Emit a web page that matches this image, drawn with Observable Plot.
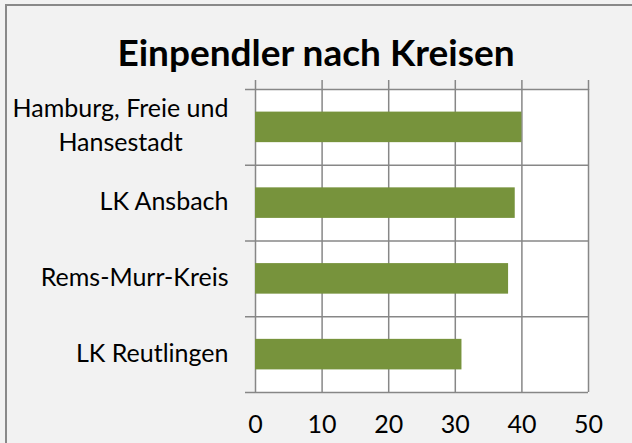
<!DOCTYPE html>
<html><head><meta charset="utf-8">
<script src="https://cdn.jsdelivr.net/npm/d3@7"></script>
<script src="https://cdn.jsdelivr.net/npm/@observablehq/plot@0.6"></script>
<style>
body{margin:0;background:#fff;}
#chart{position:relative;width:632px;height:443px;background:#f2f2f2;overflow:hidden;font-family:Lato,sans-serif;}
#frame{position:absolute;left:5px;top:4px;width:640px;height:460px;border-left:2px solid #898989;border-top:2px solid #898989;}
#title{position:absolute;left:0;top:33px;width:632px;text-align:center;font-weight:bold;font-size:37px;color:#000;line-height:1;}
#plot{position:absolute;left:0;top:70px;}
</style></head>
<body><div id="chart"><div id="frame"></div><div id="title">Einpendler nach Kreisen</div><div id="plot"></div></div>
<script>
const categories = ["Hamburg, Freie und\nHansestadt", "LK Ansbach", "Rems-Murr-Kreis", "LK Reutlingen"];
const values = [40, 39, 38, 31];
const xTicks = [0, 10, 20, 30, 40, 50];

const data = categories.map((name, i) => ({name, value: values[i], i}));
const bandTicks = d3.range(categories.length + 1);
const labelTicks = categories.map((_, i) => i + 0.5);
const gray = "#878787";

const plot = Plot.plot({
  width: 632, height: 373,
  marginLeft: 255, marginRight: 44, marginTop: 19, marginBottom: 51,
  style: {background: "transparent", fontFamily: "Lato, sans-serif", fontSize: "25px", color: "#000", overflow: "visible"},
  x: {domain: [0, 50]},
  y: {domain: [0, categories.length], reverse: true},
  marks: [
    Plot.frame({fill: "white"}),
    Plot.gridX(xTicks, {stroke: gray, strokeOpacity: 1, strokeWidth: 1.5}),
    Plot.gridY(bandTicks, {stroke: gray, strokeOpacity: 1, strokeWidth: 1.5}),
    Plot.axisX(xTicks, {anchor: "top", tickSize: 10, tickFormat: () => "", stroke: gray, strokeWidth: 1.5, label: null}),
    Plot.axisX(xTicks, {anchor: "bottom", tickSize: 0, tickPadding: 23, fontSize: 25, fill: "#000", label: null}),
    Plot.axisY(bandTicks, {anchor: "left", tickSize: 10, tickFormat: () => "", stroke: gray, strokeWidth: 1.5, label: null}),
    Plot.axisY(labelTicks, {anchor: "left", tickSize: 0, tickPadding: 27, dy: -4, tickFormat: v => categories[Math.floor(v)], fontSize: 25, lineHeight: 1.36, fill: "#000", label: null}),
    Plot.rectX(data, {x1: 0, x2: "value", y1: "i", y2: d => d.i + 1, insetTop: 22.6, insetBottom: 22.6, fill: "#77933c"})
  ]
});
document.getElementById("plot").append(plot);
plot.querySelectorAll('g[aria-label="y-axis tick label"] text').forEach(t => {
  if (t.querySelectorAll("tspan").length > 1) {
    const w = t.getBBox().width;
    t.setAttribute("text-anchor", "middle");
    const tr = t.getAttribute("transform") || "";
    t.setAttribute("transform", tr + ` translate(${-w / 2},0)`);
  }
});
</script>
</body></html>
